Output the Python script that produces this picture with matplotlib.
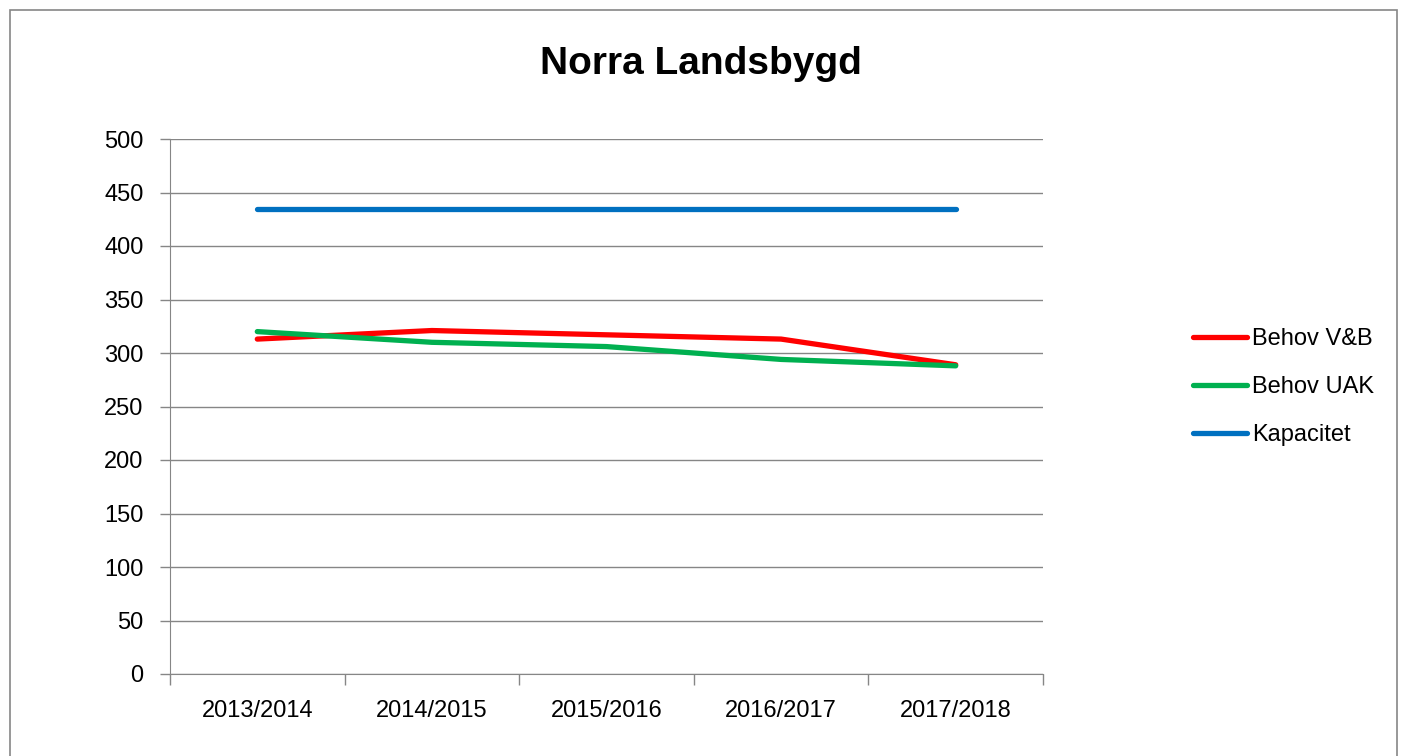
import numpy as np
import matplotlib.pyplot as plt
from matplotlib.patches import Rectangle

plt.rcParams['font.family'] = ['Liberation Sans', 'DejaVu Sans']

# data
years = ['2013/2014', '2014/2015', '2015/2016', '2016/2017', '2017/2018']
behov_vb = [313, 321, 317, 313, 289]
behov_uak = [320, 310, 306, 294, 288]
kapacitet = [435, 435, 435, 435, 435]

fig = plt.figure(figsize=(14.01, 7.56), dpi=100)
ax = fig.add_axes([170/1401, 82/756, 873/1401, 535/756])

x = np.arange(len(years))
ax.plot(x, behov_vb, color='#ff0000', linewidth=3.8, label='Behov V&B', solid_capstyle='round')
ax.plot(x, behov_uak, color='#00b050', linewidth=3.8, label='Behov UAK', solid_capstyle='round')
ax.plot(x, kapacitet, color='#0070c0', linewidth=3.8, label='Kapacitet', solid_capstyle='round')

ax.set_xlim(-0.5, len(years) - 0.5)
ax.set_ylim(0, 500)
ax.set_yticks(np.arange(0, 501, 50))
ax.grid(axis='y', color='#868686', linewidth=1)
ax.set_axisbelow(True)

# category ticks sit between categories
ax.set_xticks(np.arange(-0.5, len(years)), minor=False)
ax.set_xticklabels([''] * (len(years) + 1))
ax.set_xticks(x, minor=True)
ax.set_xticklabels(years, minor=True)
ax.tick_params(axis='x', which='minor', length=0, pad=19, labelsize=17)
ax.tick_params(axis='x', which='major', length=8, color='#868686', width=1)
ax.tick_params(axis='y', length=7, color='#868686', width=1, labelsize=17, pad=12)

for s in ['top', 'right']:
    ax.spines[s].set_visible(False)
for s in ['left', 'bottom']:
    ax.spines[s].set_color('#868686')

fig.text(0.5, 0.915, 'Norra Landsbygd', ha='center', va='center',
         fontsize=28, fontweight='bold')

ax.legend(loc='center left', bbox_to_anchor=(1193/1401, 0.488), bbox_transform=fig.transFigure,
          frameon=False, fontsize=17, handlelength=2.3, handletextpad=0.2, labelspacing=1.1,
          borderaxespad=0, borderpad=0)

# outer chart border
fig.patches.append(Rectangle((10/1401, -0.01), 1387/1401, 1 - 10/756 + 0.01,
                             transform=fig.transFigure, fill=False,
                             edgecolor='#868686', linewidth=1.2))

plt.savefig('out.png', dpi=100)
